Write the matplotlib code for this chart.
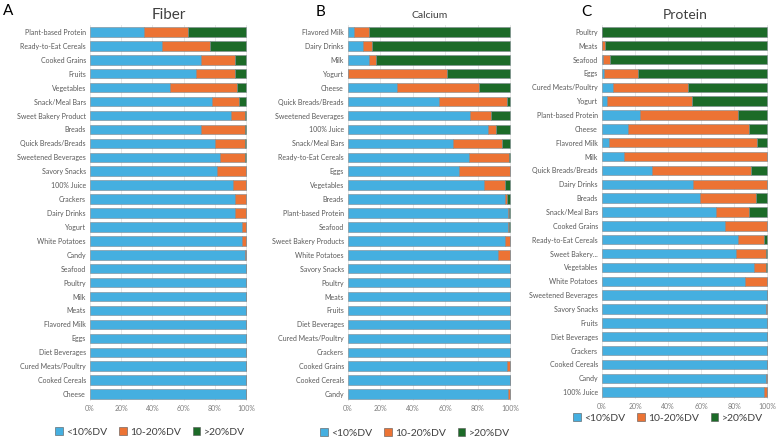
"""
Share of foods by %DV for fiber, calcium and protein
"""

import matplotlib
matplotlib.use("Agg")
import matplotlib.pyplot as plt
from matplotlib.patches import Patch

plt.rcParams['font.family'] = ['Lato', 'DejaVu Sans']

# ---- data (percent of products, top to bottom) ----
fiber_cats = ["Plant-based Protein", "Ready-to-Eat Cereals", "Cooked Grains", "Fruits",
              "Vegetables", "Snack/Meal Bars", "Sweet Bakery Product", "Breads",
              "Quick Breads/Breads", "Sweetened Beverages", "Savory Snacks", "100% Juice",
              "Crackers", "Dairy Drinks", "Yogurt", "White Potatoes", "Candy", "Seafood",
              "Poultry", "Milk", "Meats", "Flavored Milk", "Eggs", "Diet Beverages",
              "Cured Meats/Poultry", "Cooked Cereals", "Cheese"]
fiber_low = [34.5, 46, 71, 68, 51, 78, 90.5, 71, 80, 83, 81, 91.5, 92.5, 93, 97, 97.5,
             99, 100, 100, 100, 100, 100, 100, 100, 100, 100, 100]
fiber_mid = [28.5, 31, 22, 25, 43, 17.5, 8.5, 28, 19, 16, 19, 8.5, 7.5, 7, 3, 2.5,
             1, 0, 0, 0, 0, 0, 0, 0, 0, 0, 0]

calcium_cats = ["Flavored Milk", "Dairy Drinks", "Milk", "Yogurt", "Cheese",
                "Quick Breads/Breads", "Sweetened Beverages", "100% Juice", "Snack/Meal Bars",
                "Ready-to-Eat Cereals", "Eggs", "Vegetables", "Breads", "Plant-based Protein",
                "Seafood", "Sweet Bakery Products", "White Potatoes", "Savory Snacks",
                "Poultry", "Meats", "Fruits", "Diet Beverages", "Cured Meats/Poultry",
                "Crackers", "Cooked Grains", "Cooked Cereals", "Candy"]
calcium_low = [4, 9.5, 13, 0, 30, 56, 75, 86.5, 65, 74.5, 68.5, 84, 97, 98.5, 98.5, 97,
               92.5, 100, 100, 100, 100, 100, 100, 100, 98, 100, 98.5]
calcium_mid = [9, 5, 4, 61, 50.5, 42, 13, 4.5, 30, 24.5, 31.5, 12.5, 1, 0.5, 0.8, 3,
               7.5, 0, 0, 0, 0, 0, 0, 0, 2, 0, 1.5]

protein_cats = ["Poultry", "Meats", "Seafood", "Eggs", "Cured Meats/Poultry", "Yogurt",
                "Plant-based Protein", "Cheese", "Flavored Milk", "Milk",
                "Quick Breads/Breads", "Dairy Drinks", "Breads", "Snack/Meal Bars",
                "Cooked Grains", "Ready-to-Eat Cereals", "Sweet Bakery...", "Vegetables",
                "White Potatoes", "Sweetened Beverages", "Savory Snacks", "Fruits",
                "Diet Beverages", "Crackers", "Cooked Cereals", "Candy", "100% Juice"]
protein_low = [0, 0, 0.5, 1, 6.5, 3, 23, 16, 4.5, 13.5, 30.5, 55, 59.5, 69, 74.5, 82.5,
               81, 92, 86.5, 100, 99, 100, 100, 100, 100, 99, 98]
protein_mid = [0, 2, 4.5, 21, 45.5, 51.5, 59.5, 73, 89.5, 86.5, 59.5, 45, 33.5, 20, 25.5,
               15.5, 18, 7, 13.5, 0, 1, 0, 0, 0, 0, 1, 2]

labels = ["<10%DV", "10-20%DV", ">20%DV"]
colors = ["#45AFE0", "#EC7334", "#1C6B28"]

W, H = 779, 444
fig = plt.figure(figsize=(W / 100, H / 100), dpi=100)


def panel(x0, x1, y0, y1, cats, low, mid, title, tsize, letter, lx, ly, legy, legx):
    ax = fig.add_axes([x0 / W, 1 - y1 / H, (x1 - x0) / W, (y1 - y0) / H])
    high = [max(0, 100 - a - b) for a, b in zip(low, mid)]
    ypos = list(range(len(cats)))
    left = [0] * len(cats)
    for vals, c in zip([low, mid, high], colors):
        ax.barh(ypos, vals, left=left, height=0.68, color=c,
                edgecolor="#7f8a90", linewidth=0.4, zorder=2)
        left = [l + v for l, v in zip(left, vals)]
    ax.set_xlim(0, 100.5)
    ax.set_ylim(len(cats) - 0.5, -0.5)
    ax.set_yticks(ypos)
    ax.set_yticklabels(cats, fontsize=5, color="#595959")
    ax.set_xticks([0, 20, 40, 60, 80, 100])
    ax.set_xticklabels(["0%", "20%", "40%", "60%", "80%", "100%"],
                       fontsize=5, color="#7f7f7f")
    ax.tick_params(length=0, pad=3)
    ax.xaxis.grid(True, color="#e4e4e4", linewidth=0.6, zorder=0)
    for s in ax.spines.values():
        s.set_visible(False)
    fig.text((x0 + x1) / 2 / W, 1 - 15 / H, title, ha="center", va="center",
             fontsize=tsize, color="#404040")
    fig.text(lx / W, 1 - ly / H, letter, ha="left", va="center", fontsize=11)
    handles = [Patch(facecolor=c, edgecolor="#555555", linewidth=0.4, label=l)
               for c, l in zip(colors, labels)]
    fig.legend(handles=handles, loc="center", bbox_to_anchor=(legx / W, 1 - legy / H),
               ncol=3, frameon=False, fontsize=7.5, handlelength=0.7, handleheight=0.7,
               handletextpad=0.3, columnspacing=1.2, labelcolor="#404040")
    return ax


panel(90, 247, 25, 401, fiber_cats, fiber_low, fiber_mid, "Fiber", 11, "A", 3, 11, 432, 150)
panel(348, 511, 25, 401, calcium_cats, calcium_low, calcium_mid, "Calcium", 7.5, "B", 316, 12, 433, 415)
panel(602, 768, 25, 399, protein_cats, protein_low, protein_mid, "Protein", 10, "C", 581, 12, 418, 668)

fig.savefig("out.png", dpi=100)
